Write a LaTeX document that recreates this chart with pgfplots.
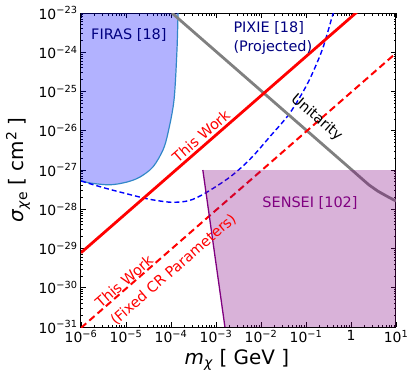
\documentclass[border=0pt]{standalone}
\usepackage{fontspec}
\setmainfont{DejaVu Sans}
\usepackage{pgfplots}
\pgfplotsset{compat=1.18}
\usetikzlibrary{calc}

\definecolor{firasline}{RGB}{50,135,200}
\definecolor{unitgray}{RGB}{128,128,128}
\definecolor{navy}{RGB}{0,0,128}
\definecolor{purple}{RGB}{128,0,128}

\newcommand{\tl}[1]{10\textsuperscript{#1}}

\begin{document}
\begin{tikzpicture}
\begin{axis}[
    scale only axis,
    width=315bp, height=314bp,
    xmode=log, ymode=log,
    xmin=1e-6, xmax=10,
    ymin=1e-31, ymax=1e-23,
    xtick={1e-6,1e-5,1e-4,1e-3,1e-2,1e-1,1,10},
    xticklabels={\tl{−6},\tl{−5},\tl{−4},\tl{−3},\tl{−2},\tl{−1},1,\tl{1}},
    ytick={1e-31,1e-30,1e-29,1e-28,1e-27,1e-26,1e-25,1e-24,1e-23},
    yticklabels={\tl{−31},\tl{−30},\tl{−29},\tl{−28},\tl{−27},\tl{−26},\tl{−25},\tl{−24},\tl{−23}},
    ticklabel style={font=\fontsize{14}{16}\selectfont},
    tick align=inside,
    major tick length=5bp, minor tick length=2.5bp,
    every tick/.style={black, line width=0.8bp},
    axis line style={line width=1bp},
    xlabel={\textit{m}\textsubscript{\textit{χ}} [ GeV ]},
    ylabel={\textit{σ}\textsubscript{\textit{χ}e} [ cm\textsuperscript{2} ]},
    xlabel style={font=\fontsize{20}{24}\selectfont, at={(axis description cs:0.495,-0.105)}, anchor=center},
    ylabel style={font=\fontsize{20}{24}\selectfont, at={(axis description cs:-0.2,0.5)}, anchor=center},
]

% FIRAS excluded region
\addplot[draw=none, fill=blue, fill opacity=0.3] coordinates {
    (1e-6,1e-23) (1.432e-4,1e-23) (1.358e-4,1.14e-24) (1.167e-4,6.07e-26)
    (8.57e-5,8.77e-27) (6.64e-5,3.24e-27) (3.98e-5,1.2e-27) (2.05e-5,6.64e-28)
    (1.05e-5,4.94e-28) (4.41e-6,4.2e-28) (1.58e-6,4.67e-28) (1e-6,5.4e-28)
} -- cycle;
\addplot[firasline, line width=1.2bp, smooth] coordinates {
    (1.432e-4,1e-23) (1.358e-4,1.14e-24) (1.167e-4,6.07e-26)
    (8.57e-5,8.77e-27) (6.64e-5,3.24e-27) (3.98e-5,1.2e-27) (2.05e-5,6.64e-28)
    (1.05e-5,4.94e-28) (4.41e-6,4.2e-28) (1.58e-6,4.67e-28) (1e-6,5.4e-28)
};

% PIXIE projected
\addplot[blue, line width=1.4bp, dash pattern=on 5bp off 3bp, smooth] coordinates {
    (1e-6,5.25e-28) (3.16e-6,3.55e-28) (1e-5,2.51e-28) (3.16e-5,1.82e-28)
    (1e-4,1.51e-28) (2.51e-4,1.66e-28) (5.75e-4,2.57e-28) (2.04e-3,6.61e-28)
    (5.75e-3,1.9e-27) (1.58e-2,7.1e-27) (4.37e-2,2.82e-26) (0.11,1.66e-25)
    (0.229,1.15e-24) (0.38,7.94e-24) (0.437,1.3e-23)
};

% unitarity
\addplot[unitgray, line width=2.8bp] coordinates {
    (1.05e-4,1e-23) (0.955,1.1e-27) (1.585,6.6e-28) (2.51,4.17e-28)
    (3.98,2.88e-28) (6.31,2.14e-28) (10,1.62e-28)
};

% this work
\addplot[red, line width=2.8bp] coordinates {(1e-6,7.8e-30) (2,1.56e-23)};
\addplot[red, line width=2bp, dash pattern=on 7bp off 4bp] coordinates {(1e-6,9.5e-32) (10,9.5e-25)};

% SENSEI
\addplot[draw=none, fill=purple, fill opacity=0.3] coordinates {
    (5.1e-4,1e-27) (10,1e-27) (10,1e-31) (1.58e-3,1e-31)
} -- cycle;
\addplot[purple, line width=1.3bp] coordinates {(5.1e-4,1e-27) (1.58e-3,1e-31)};

\node[navy, font=\fontsize{14.5}{19}\selectfont] at (rel axis cs:0.152,0.93) {FIRAS [18]};
\node[navy, font=\fontsize{14.5}{19}\selectfont, align=left, anchor=west] at (rel axis cs:0.473,0.92) {PIXIE [18]\\(Projected)};
\node[red, rotate=41, font=\fontsize{14.5}{19}\selectfont] at (rel axis cs:0.381,0.609) {This Work};
\node[black, rotate=-41, font=\fontsize{14.5}{19}\selectfont] at (rel axis cs:0.748,0.667) {Unitarity};
\node[purple, font=\fontsize{14.5}{19}\selectfont] at (rel axis cs:0.727,0.395) {SENSEI [102]};
\node[red, rotate=41, align=left, font=\fontsize{14.5}{23}\selectfont] at (rel axis cs:0.270,0.210) {This Work\\(Fixed CR Parameters)};
\end{axis}
\pgfresetboundingbox
\path ($(current axis.south west)+(-81bp,-55bp)$) rectangle ($(current axis.north east)+(20bp,13bp)$);
\end{tikzpicture}
\end{document}
